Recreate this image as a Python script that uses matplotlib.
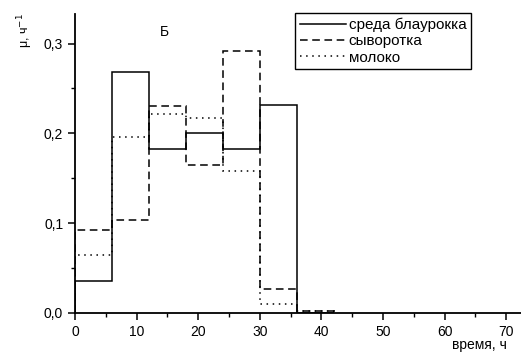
import numpy as np
import matplotlib
matplotlib.use("Agg")
import matplotlib.pyplot as plt
from matplotlib.ticker import MultipleLocator, FuncFormatter

plt.rcParams["font.family"] = ["Liberation Sans", "DejaVu Sans"]

# интервалы времени, ч
edges = [0, 6, 12, 18, 24, 30, 36, 42]
# удельная скорость роста, 1/ч
blaurock = [0.035, 0.268, 0.182, 0.200, 0.182, 0.232, 0.0]
whey = [0.092, 0.103, 0.230, 0.165, 0.292, 0.027, 0.002]
milk = [0.064, 0.196, 0.222, 0.217, 0.158, 0.010, 0.002]

fig = plt.figure(figsize=(5.21, 3.56), dpi=100)
ax = fig.add_axes([0.144, 0.121, 0.856, 0.840])

ax.stairs(blaurock, edges, baseline=0, color="black", lw=1.1, ls="-", label="среда блаурокка")
ax.stairs(whey, edges, baseline=0, color="black", lw=1.1, ls=(0, (5, 3)), label="сыворотка")
ax.stairs(milk, edges, baseline=0, color="black", lw=1.1, ls=(0, (1, 3)), label="молоко")

ax.set_xlim(0, 72.4)
ax.set_ylim(0, 0.333)
ax.xaxis.set_major_locator(MultipleLocator(10))
ax.xaxis.set_minor_locator(MultipleLocator(5))
ax.yaxis.set_major_locator(MultipleLocator(0.1))
ax.yaxis.set_minor_locator(MultipleLocator(0.05))
ax.yaxis.set_major_formatter(FuncFormatter(lambda v, p: ("%.1f" % v).replace(".", ",")))

for s in ["top", "right"]:
    ax.spines[s].set_visible(False)
for s in ["left", "bottom"]:
    ax.spines[s].set_linewidth(1.3)
ax.tick_params(which="major", direction="out", length=5, width=1.1, labelsize=10)
ax.tick_params(which="minor", direction="out", length=3, width=1.0)

ax.text(0.2, 0.94, "Б", transform=ax.transAxes, fontsize=10, ha="center", va="center")
fig.text(0.048, 0.915, "μ, ч$^{-1}$", rotation=90, fontsize=9, ha="center", va="center")
fig.text(0.92, 0.03, "время, ч", fontsize=10, ha="center", va="center")

leg = ax.legend(loc="upper right", bbox_to_anchor=(0.904, 0.963), bbox_transform=fig.transFigure,
                borderaxespad=0, fontsize=11, fancybox=False, edgecolor="black", framealpha=1,
                handlelength=3.0, handletextpad=0.2, borderpad=0.3, labelspacing=0.15)
leg.get_frame().set_linewidth(1.0)

fig.savefig("out.png", dpi=100)
